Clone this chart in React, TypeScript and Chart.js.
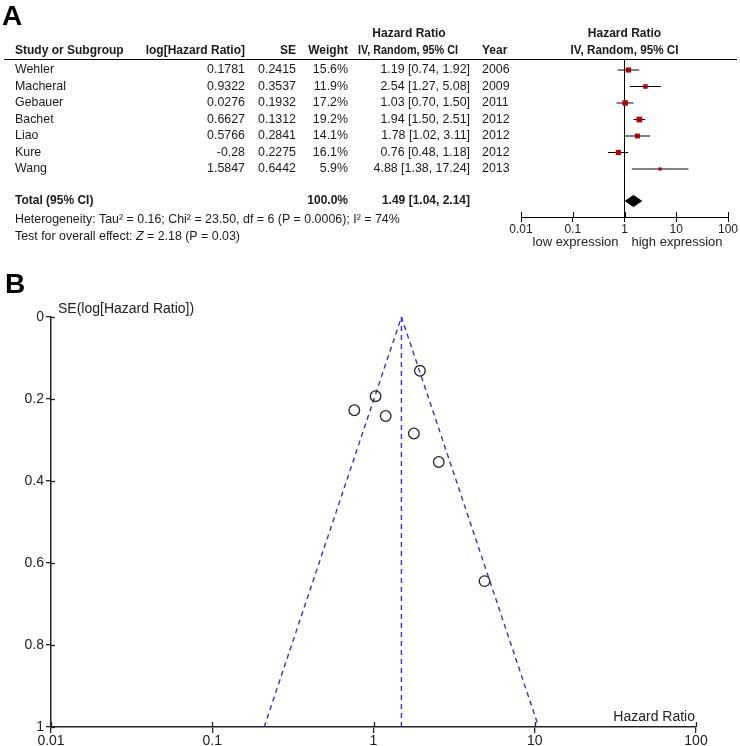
import { useEffect, useRef } from 'react';
import { Chart, registerables } from 'chart.js';

Chart.register(...registerables);

const FONT = "'Liberation Sans', Arial, Helvetica, sans-serif";

// ---- data ----
const STUDIES = ['Wehler', 'Macheral', 'Gebauer', 'Bachet', 'Liao', 'Kure', 'Wang'];
const LOG_HR = [0.1781, 0.9322, 0.0276, 0.6627, 0.5766, -0.28, 1.5847];
const SE = [0.2415, 0.3537, 0.1932, 0.1312, 0.2841, 0.2275, 0.6442];
const WEIGHT = [15.6, 11.9, 17.2, 19.2, 14.1, 16.1, 5.9];
const HR = [1.19, 2.54, 1.03, 1.94, 1.78, 0.76, 4.88];
const HR_LO = [0.74, 1.27, 0.7, 1.5, 1.02, 0.48, 1.38];
const HR_HI = [1.92, 5.08, 1.5, 2.51, 3.11, 1.18, 17.24];
const YEAR = [2006, 2009, 2011, 2012, 2012, 2012, 2013];
const TOTAL_WEIGHT = 100.0;
const TOTAL_HR = 1.49;
const TOTAL_LO = 1.04;
const TOTAL_HI = 2.14;
const HETEROGENEITY = 'Heterogeneity: Tau\u00B2 = 0.16; Chi\u00B2 = 23.50, df = 6 (P = 0.0006); I\u00B2 = 74%';
const OVERALL_PRE = 'Test for overall effect: ';
const OVERALL_Z = 'Z';
const OVERALL_POST = ' = 2.18 (P = 0.03)';
const HR_TICKS = [0.01, 0.1, 1, 10, 100];
const SE_TICKS = [0, 0.2, 0.4, 0.6, 0.8, 1];
const Z95 = 1.96;

// ---- forest layout (row units) ----
const ROW_MIN = 0.333;
const ROW_MAX = 9.909;
const TOTAL_ROW = 8.94;
const DIAMOND_HALF = 0.34;

const fmt2 = (v: number) => v.toFixed(2);

const forestPlugin = {
  id: 'forestTable',
  afterDraw(chart: any) {
    const { ctx, scales, chartArea } = chart;
    const x = scales.x;
    const y = scales.y;
    ctx.save();
    const text = (t: string, px: number, py: number, align: CanvasTextAlign, maxW?: number) => {
      ctx.textAlign = align;
      if (maxW) ctx.fillText(t, px, py, maxW);
      else ctx.fillText(t, px, py);
    };
    ctx.fillStyle = '#000';
    ctx.font = `bold 28px ${FONT}`;
    ctx.textBaseline = 'alphabetic';
    text('A', 2, 25, 'left');

    ctx.fillStyle = '#1a1a1a';
    ctx.textBaseline = 'middle';
    ctx.font = `bold 12px ${FONT}`;
    const H1 = 34;
    const H2 = 51;
    text('Study or Subgroup', 15, H2, 'left');
    text('log[Hazard Ratio]', 245, H2, 'right');
    text('SE', 296, H2, 'right');
    text('Weight', 348, H2, 'right');
    text('Hazard Ratio', 409, H1, 'center');
    text('IV, Random, 95% CI', 408, H2, 'center', 100);
    text('Year', 482, H2, 'left');
    const cx = x.getPixelForValue(1);
    text('Hazard Ratio', cx, H1, 'center');
    text('IV, Random, 95% CI', cx, H2, 'center', 108);

    ctx.strokeStyle = '#000';
    ctx.lineWidth = 1;
    ctx.beginPath();
    ctx.moveTo(4, Math.round(chartArea.top) + 0.5);
    ctx.lineTo(737, Math.round(chartArea.top) + 0.5);
    ctx.stroke();

    ctx.font = `12.4px ${FONT}`;
    STUDIES.forEach((s, i) => {
      const py = y.getPixelForValue(i + 1);
      text(s, 15, py, 'left');
      text(String(LOG_HR[i]), 245, py, 'right');
      text(String(SE[i]), 296, py, 'right');
      text(WEIGHT[i].toFixed(1) + '%', 348, py, 'right');
      text(`${fmt2(HR[i])} [${fmt2(HR_LO[i])}, ${fmt2(HR_HI[i])}]`, 470, py, 'right');
      text(String(YEAR[i]), 482, py, 'left');
    });

    const ty = y.getPixelForValue(TOTAL_ROW);
    ctx.font = `bold 12px ${FONT}`;
    text('Total (95% CI)', 15, ty, 'left');
    text(TOTAL_WEIGHT.toFixed(1) + '%', 348, ty, 'right');
    text(`${fmt2(TOTAL_HR)} [${fmt2(TOTAL_LO)}, ${fmt2(TOTAL_HI)}]`, 470, ty, 'right');

    ctx.font = `12.4px ${FONT}`;
    text(HETEROGENEITY, 15, 220, 'left');
    let ox = 15;
    text(OVERALL_PRE, ox, 236.5, 'left');
    ox += ctx.measureText(OVERALL_PRE).width;
    ctx.font = `italic 12.4px ${FONT}`;
    text(OVERALL_Z, ox, 236.5, 'left');
    ox += ctx.measureText(OVERALL_Z).width;
    ctx.font = `12.4px ${FONT}`;
    text(OVERALL_POST, ox, 236.5, 'left');

    // upper half of tick marks
    const base = chartArea.bottom;
    ctx.strokeStyle = '#000';
    ctx.lineWidth = 1;
    HR_TICKS.forEach((v) => {
      const px = Math.round(x.getPixelForValue(v)) + 0.5;
      ctx.beginPath();
      ctx.moveTo(px, base - 5);
      ctx.lineTo(px, base);
      ctx.stroke();
    });

    ctx.font = `13px ${FONT}`;
    ctx.fillStyle = '#222';
    text('low expression', cx - 6, 242.5, 'right');
    text('high expression', cx + 7, 242.5, 'left');
    ctx.restore();
  },
};

const funnelPlugin = {
  id: 'funnelText',
  afterDraw(chart: any) {
    const { ctx, scales, chartArea } = chart;
    const x = scales.x;
    const y = scales.y;
    ctx.save();
    ctx.fillStyle = '#000';
    ctx.font = `bold 28px ${FONT}`;
    ctx.textAlign = 'left';
    ctx.textBaseline = 'alphabetic';
    ctx.fillText('B', 5, 33);

    ctx.fillStyle = '#222';
    ctx.font = `14px ${FONT}`;
    ctx.textBaseline = 'middle';
    ctx.fillText('SE(log[Hazard Ratio])', chartArea.left + 7, 49);
    ctx.textAlign = 'right';
    ctx.fillText('Hazard Ratio', chartArea.right - 1, chartArea.bottom - 10);

    ctx.strokeStyle = '#222';
    ctx.lineWidth = 1.3;
    HR_TICKS.forEach((v) => {
      const px = Math.round(x.getPixelForValue(v)) + 0.5;
      ctx.beginPath();
      ctx.moveTo(px, chartArea.bottom - 5);
      ctx.lineTo(px, chartArea.bottom);
      ctx.stroke();
    });
    SE_TICKS.forEach((v) => {
      const py = Math.round(y.getPixelForValue(v)) + 0.5;
      ctx.beginPath();
      ctx.moveTo(chartArea.left, py);
      ctx.lineTo(chartArea.left + 4, py);
      ctx.stroke();
    });
    ctx.restore();
  },
};

function forestConfig(): any {
  const ciSets = STUDIES.map((s, i) => ({
    type: 'line',
    label: s + ' CI',
    data: [
      { x: HR_LO[i], y: i + 1 },
      { x: HR_HI[i], y: i + 1 },
    ],
    borderColor: '#000',
    borderWidth: 1,
    pointRadius: 0,
    fill: false,
  }));
  return {
    type: 'scatter',
    data: {
      datasets: [
        {
          label: 'HR',
          data: HR.map((v, i) => ({ x: v, y: i + 1 })),
          pointStyle: 'rect',
          pointRadius: WEIGHT.map((w) => 0.92 * Math.sqrt(w)),
          backgroundColor: '#b40000',
          borderWidth: 0,
        },
        {
          type: 'line',
          label: 'Total',
          data: [
            { x: TOTAL_LO, y: TOTAL_ROW },
            { x: TOTAL_HR, y: TOTAL_ROW - DIAMOND_HALF },
            { x: TOTAL_HI, y: TOTAL_ROW },
            { x: TOTAL_HR, y: TOTAL_ROW + DIAMOND_HALF },
            { x: TOTAL_LO, y: TOTAL_ROW },
          ],
          borderColor: '#000',
          backgroundColor: '#000',
          borderWidth: 1,
          pointRadius: 0,
          fill: 'shape',
        },
        ...ciSets,
        {
          type: 'line',
          label: 'no effect',
          data: [
            { x: 1, y: ROW_MIN },
            { x: 1, y: ROW_MAX },
          ],
          borderColor: '#000',
          borderWidth: 1,
          pointRadius: 0,
          fill: false,
        },
      ],
    },
    options: {
      responsive: false,
      animation: false,
      devicePixelRatio: 1,
      layout: { padding: { left: 521, right: 12, top: 59, bottom: 0 } },
      plugins: { legend: { display: false }, tooltip: { enabled: false } },
      scales: {
        x: {
          type: 'logarithmic',
          position: 'bottom',
          min: 0.01,
          max: 100,
          border: { display: true, color: '#000', width: 1 },
          grid: { display: true, drawOnChartArea: false, drawTicks: true, tickLength: 5, color: '#000' },
          ticks: {
            color: '#222',
            font: { family: FONT, size: 12 },
            padding: 0,
            autoSkip: false,
            maxRotation: 0,
            callback: (v: any) => String(v),
          },
          afterBuildTicks: (scale: any) => {
            scale.ticks = HR_TICKS.map((v) => ({ value: v }));
          },
          afterFit: (scale: any) => {
            scale.height = 43;
          },
        },
        y: {
          type: 'linear',
          display: false,
          min: ROW_MIN,
          max: ROW_MAX,
          reverse: true,
        },
      },
    },
    plugins: [forestPlugin],
  };
}

function funnelConfig(): any {
  const lnEst = Math.log(TOTAL_HR);
  const leftBase = Math.exp(lnEst - Z95 * 1);
  const rightBase = Math.exp(lnEst + Z95 * 1);
  const blue = '#3434c4';
  return {
    type: 'scatter',
    data: {
      datasets: [
        {
          label: 'studies',
          data: HR.map((v, i) => ({ x: v, y: SE[i] })),
          pointStyle: 'circle',
          pointRadius: 5.3,
          borderColor: '#222',
          borderWidth: 1.3,
          backgroundColor: 'rgba(0,0,0,0)',
        },
        {
          type: 'line',
          label: 'pseudo CI',
          data: [
            { x: leftBase, y: 1 },
            { x: TOTAL_HR, y: 0 },
            { x: rightBase, y: 1 },
          ],
          borderColor: blue,
          borderWidth: 1.4,
          borderDash: [5, 4],
          pointRadius: 0,
          fill: false,
        },
        {
          type: 'line',
          label: 'pooled',
          data: [
            { x: TOTAL_HR, y: 0 },
            { x: TOTAL_HR, y: 1 },
          ],
          borderColor: blue,
          borderWidth: 1.4,
          borderDash: [5, 4],
          pointRadius: 0,
          fill: false,
        },
      ],
    },
    options: {
      responsive: false,
      animation: false,
      devicePixelRatio: 1,
      layout: { padding: { left: 0, right: 44, top: 57, bottom: 0 } },
      plugins: { legend: { display: false }, tooltip: { enabled: false } },
      scales: {
        x: {
          type: 'logarithmic',
          position: 'bottom',
          min: 0.01,
          max: 100,
          border: { display: true, color: '#222', width: 1.5 },
          grid: { display: true, drawOnChartArea: false, drawTicks: true, tickLength: 6, color: '#222', lineWidth: 1.3 },
          ticks: {
            color: '#222',
            font: { family: FONT, size: 14 },
            padding: 0,
            autoSkip: false,
            maxRotation: 0,
            callback: (v: any) => String(v),
          },
          afterBuildTicks: (scale: any) => {
            scale.ticks = HR_TICKS.map((v) => ({ value: v }));
          },
          afterFit: (scale: any) => {
            scale.height = 19;
          },
        },
        y: {
          type: 'linear',
          position: 'left',
          min: 0,
          max: 1,
          reverse: true,
          border: { display: true, color: '#222', width: 1.5 },
          grid: { display: true, drawOnChartArea: false, drawTicks: true, tickLength: 5, color: '#222', lineWidth: 1.3 },
          ticks: {
            color: '#222',
            font: { family: FONT, size: 14 },
            padding: 2,
            autoSkip: false,
            callback: (v: any) => String(Math.round(Number(v) * 10) / 10),
          },
          afterBuildTicks: (scale: any) => {
            scale.ticks = SE_TICKS.map((v) => ({ value: v }));
          },
          afterFit: (scale: any) => {
            scale.width = 51;
          },
        },
      },
    },
    plugins: [funnelPlugin],
  };
}

export default function App() {
  const forestRef = useRef<HTMLCanvasElement>(null);
  const funnelRef = useRef<HTMLCanvasElement>(null);
  useEffect(() => {
    const c1 = new Chart(forestRef.current as HTMLCanvasElement, forestConfig());
    const c2 = new Chart(funnelRef.current as HTMLCanvasElement, funnelConfig());
    return () => {
      c1.destroy();
      c2.destroy();
    };
  }, []);
  return (
    <div
      style={{
        position: 'absolute',
        left: 0,
        top: 0,
        width: 740,
        height: 746,
        background: '#fff',
        overflow: 'hidden',
      }}
    >
      <canvas
        ref={forestRef}
        width={740}
        height={260}
        style={{ position: 'absolute', left: 0, top: 0, width: 740, height: 260 }}
      />
      <canvas
        ref={funnelRef}
        width={740}
        height={486}
        style={{ position: 'absolute', left: 0, top: 260, width: 740, height: 486 }}
      />
    </div>
  );
}
